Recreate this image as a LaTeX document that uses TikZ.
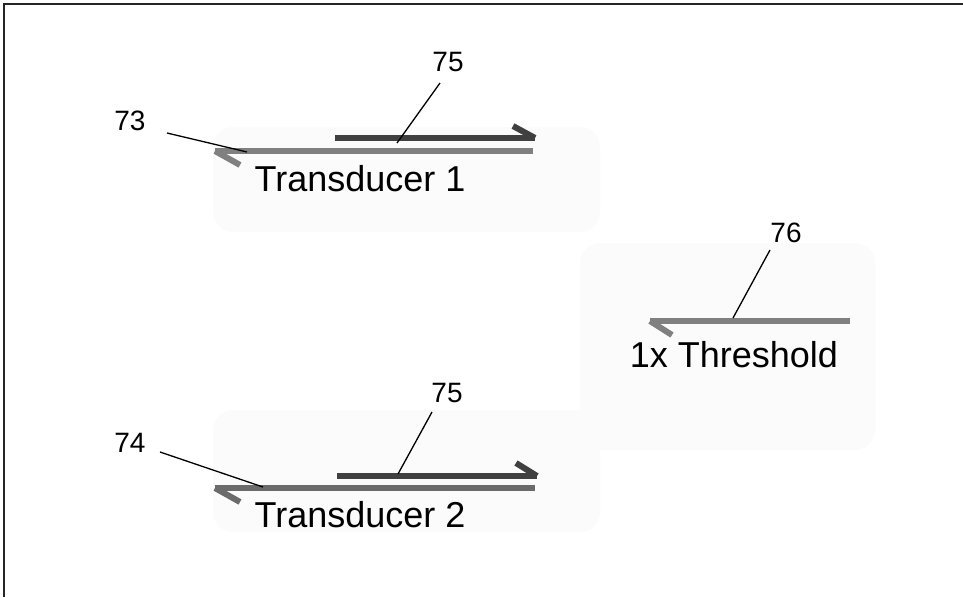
\documentclass[tikz,border=0pt]{standalone}
\usepackage{fontspec}
\setmainfont{Liberation Sans}
\begin{document}
\begin{tikzpicture}[x=1pt,y=-1pt,
  frame/.style={draw=black!85,line width=2pt},
  halo/.style={fill=black!1.5,draw=none},
  lightline/.style={draw=black!50,line width=6pt},
  darkline/.style={draw=black!75,line width=6pt},
  leader/.style={draw=black,line width=1.3pt},
  refnum/.style={font=\fontsize{28}{28}\selectfont,inner sep=0pt},
  caption/.style={font=\fontsize{36}{36}\selectfont,inner sep=0pt,anchor=base}]
\useasboundingbox (0,0) rectangle (963,597);
% frame (top and left edges)
\draw[frame] (4,597) -- (4,4) -- (963,4);
% faint halftone areas
\fill[halo,rounded corners=20pt] (213,127) rectangle (600,232);
\fill[halo,rounded corners=20pt] (213,410) rectangle (600,532);
\fill[halo,rounded corners=20pt] (580,243) rectangle (875,450);

% ---------- Transducer 1 ----------
\coordinate (t1a) at (215,151);
\coordinate (t1b) at (533,151);
\coordinate (t1barb) at (240,165);
\coordinate (d1a) at (335,138);
\coordinate (d1b) at (535,138);
\coordinate (d1barb) at (513,126);
\draw[lightline] (t1a) -- (t1b);
\draw[lightline] (t1a) -- (t1barb);
\draw[darkline] (d1a) -- (d1b);
\draw[darkline] (d1b) -- (d1barb);
\node[caption] (cap1) at (360,191) {Transducer 1};
\node[refnum] (n73) at (130,121) {73};
\node[refnum] (n75a) at (448,62) {75};
\coordinate (l73s) at (167,133);
\coordinate (l73e) at (247,152);
\coordinate (l75as) at (440,83);
\coordinate (l75ae) at (397,143);
\draw[leader] (l73s) -- (l73e);
\draw[leader] (l75as) -- (l75ae);

% ---------- Threshold ----------
\coordinate (tha) at (650,321);
\coordinate (thb) at (850,321);
\coordinate (thbarb) at (672,335);
\draw[lightline] (tha) -- (thb);
\draw[lightline] (tha) -- (thbarb);
\node[caption] (cap3) at (734,367) {1x Threshold};
\node[refnum] (n76) at (786,233) {76};
\coordinate (l76s) at (770,250);
\coordinate (l76e) at (733,318);
\draw[leader] (l76s) -- (l76e);

% ---------- Transducer 2 ----------
\coordinate (t2a) at (215,488);
\coordinate (t2b) at (535,488);
\coordinate (t2barb) at (240,502);
\coordinate (d2a) at (337,476);
\coordinate (d2b) at (537,476);
\coordinate (d2barb) at (516,463);
\draw[lightline,draw=black!58] (t2a) -- (t2b);
\draw[lightline,draw=black!58] (t2a) -- (t2barb);
\draw[darkline] (d2a) -- (d2b);
\draw[darkline] (d2b) -- (d2barb);
\node[caption] (cap2) at (360,527) {Transducer 2};
\node[refnum] (n74) at (130,443) {74};
\node[refnum] (n75b) at (447,393) {75};
\coordinate (l74s) at (160,452);
\coordinate (l74e) at (263,487);
\coordinate (l75bs) at (432,412);
\coordinate (l75be) at (398,474);
\draw[leader] (l74s) -- (l74e);
\draw[leader] (l75bs) -- (l75be);
\end{tikzpicture}
\end{document}
